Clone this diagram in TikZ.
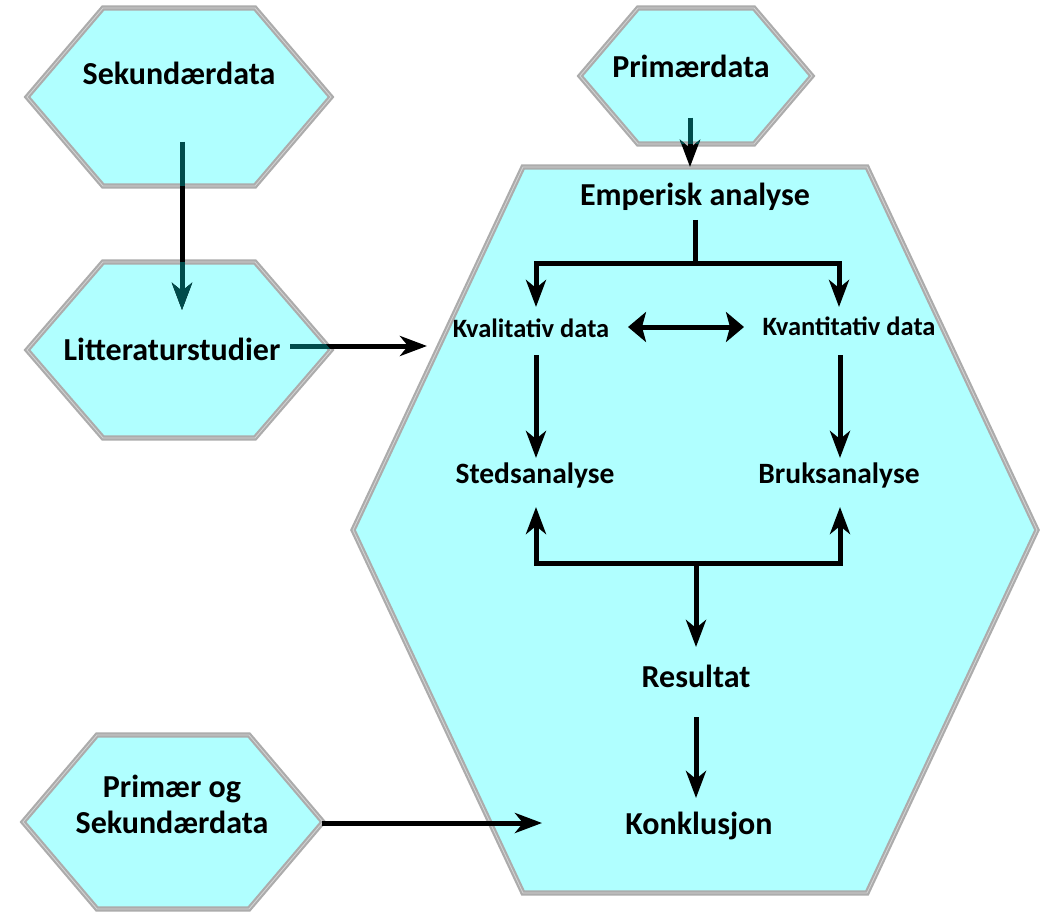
\documentclass[tikz,border=0pt]{standalone}
\usepackage{fontspec}
\setmainfont{Carlito}
\usetikzlibrary{arrows.meta}
\definecolor{hexfill}{RGB}{176,255,255}
\definecolor{hexline}{RGB}{172,172,172}
\definecolor{hexmid}{RGB}{212,212,212}
\definecolor{darkteal}{RGB}{0,76,76}
\newcommand\hexp[5]{(#1-#3,#2) -- (#1-#4,#2-#5) -- (#1+#4,#2-#5) -- (#1+#3,#2) -- (#1+#4,#2+#5) -- (#1-#4,#2+#5) -- cycle}
\begin{document}
\begin{tikzpicture}[x=1pt,y=-1pt,
  hexa/.style={fill=hexfill, draw=hexline, line width=2.2pt, double=hexmid, double distance=0.8pt, line join=miter},
  lbl/.style={font=\fontsize{32}{36}\selectfont\bfseries, inner sep=0pt, align=center},
  lblmid/.style={font=\fontsize{29.5}{34}\selectfont\bfseries, inner sep=0pt},
  lblsm/.style={font=\fontsize{26.5}{30}\selectfont\bfseries, inner sep=0pt},
  conn/.style={line width=5pt, line join=miter, -{Stealth[length=27pt,width=20pt,inset=8pt]}},
  dbl/.style={line width=5pt, {Stealth[length=18pt,width=30pt,inset=4pt]}-{Stealth[length=18pt,width=30pt,inset=4pt]}},
  plain/.style={line width=5pt, line join=miter}
]
\useasboundingbox (0,0) rectangle (1044,912);
\fill[white] (0,0) rectangle (1044,912);

% hexagons
\path[hexa] \hexp{695}{530}{342}{172}{363};
\path[hexa] \hexp{179}{97}{152}{76}{89};
\path[hexa] \hexp{179}{350}{152}{76}{88};
\path[hexa] \hexp{696}{76}{116}{58}{68};
\path[hexa] \hexp{173}{822}{150}{76}{87};

% labels
\node[lbl] (sek) at (179,73) {Sekundærdata};
\node[lbl] (lit) at (172,349) {Litteraturstudier};
\node[lbl] (prim) at (691,66) {Primærdata};
\node[lbl] (ps) at (172,804) {Primær og\\Sekundærdata};
\node[lbl] (emp) at (695,197) {Emperisk analyse};
\node[lblsm] (kval) at (531,328) {Kvalitativ data};
\node[lblsm] (kvant) at (849,326) {Kvantitativ data};
\node[lblmid] (sted) at (535,475) {Stedsanalyse};
\node[lblmid] (bruk) at (839,475) {Bruksanalyse};
\node[lbl] (res) at (696,676) {Resultat};
\node[lbl] (konk) at (699,826) {Konklusjon};

% connector end points
\coordinate (s1) at (182,142); \coordinate (s2) at (182,310);
\coordinate (l1) at (290,346); \coordinate (l2) at (427,346);
\coordinate (p1) at (690,118); \coordinate (p2) at (690,167);
\coordinate (e1) at (695,220); \coordinate (e2) at (695,263);
\coordinate (kvalT) at (536,307); \coordinate (kvantT) at (839,307);
\coordinate (kvalB) at (536,355); \coordinate (kvantB) at (840,355);
\coordinate (stedT) at (536,458); \coordinate (brukT) at (840,458);
\coordinate (stedB) at (536,507); \coordinate (brukB) at (840,507);
\coordinate (d1) at (628,327); \coordinate (d2) at (744,327);
\coordinate (b1) at (696,563); \coordinate (resT) at (696,647);
\coordinate (resB) at (696,717); \coordinate (konkT) at (696,798);
\coordinate (ps1) at (322,823); \coordinate (ps2) at (542,823);

% connectors
\draw[conn] (s1) -- (s2);
\draw[conn] (l1) -- (l2);
\draw[conn] (p1) -- (p2);
\draw[plain] (e1) -- (e2);
\draw[conn] (e2) -| (kvalT);
\draw[conn] (e2) -| (kvantT);
\draw[dbl] (d1) -- (d2);
\draw[conn] (kvalB) -- (stedT);
\draw[conn] (kvantB) -- (brukT);
\draw[conn] (b1) -| (stedB);
\draw[conn] (b1) -| (brukB);
\draw[conn] (b1) -- (resT);
\draw[conn] (resB) -- (konkT);
\draw[conn] (ps1) -- (ps2);

% parts of connectors seen through the small hexagons
\begin{scope}
  \clip \hexp{179}{97}{152}{76}{89};
  \draw[conn, darkteal] (s1) -- (s2);
\end{scope}
\begin{scope}
  \clip \hexp{179}{350}{152}{76}{88};
  \draw[conn, darkteal] (s1) -- (s2);
  \draw[conn, darkteal] (l1) -- (l2);
\end{scope}
\begin{scope}
  \clip \hexp{696}{76}{116}{58}{68};
  \draw[conn, darkteal] (p1) -- (p2);
\end{scope}
\end{tikzpicture}
\end{document}
